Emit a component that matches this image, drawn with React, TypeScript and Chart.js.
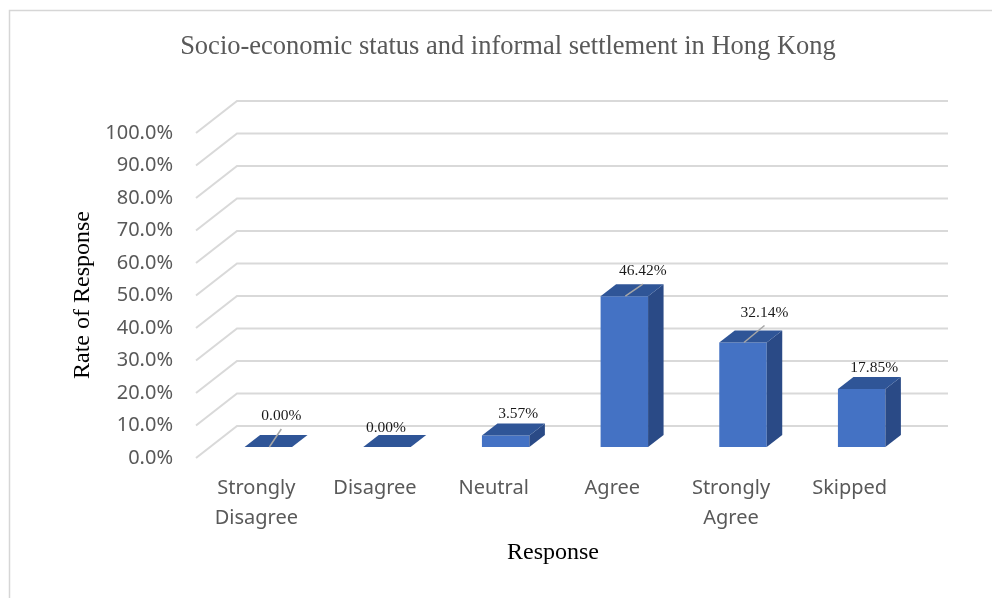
import React, { useEffect, useRef } from 'react';
import { Chart, registerables } from 'chart.js';

Chart.register(...registerables);

// ---- data ----
const categories: (string | string[])[] = [
  ['Strongly', 'Disagree'],
  'Disagree',
  'Neutral',
  'Agree',
  ['Strongly', 'Agree'],
  'Skipped',
];
const rates: number[] = [0.0, 0.0, 3.57, 46.42, 32.14, 17.85];
const valueLabels: string[] = ['0.00%', '0.00%', '3.57%', '46.42%', '32.14%', '17.85%'];
const yMin = 0;
const yMax = 100;
const yStep = 10;
const chartTitle = 'Socio-economic status and informal settlement in Hong Kong';
const xTitle = 'Response';
const yTitle = 'Rate of Response';

// ---- layout / style (not data) ----
const W = 992;
const H = 598;
const AREA = { left: 209, right: 921, top: 122, bottom: 447 };
const FRONT = { dx: -13, dy: 11 };
const BACK = { dx: 28, dy: -21 };
const BAR_DEPTH = { dx: 15.5, dy: -12 };
const LABEL_BASE = { dx: 12.5, dy: -21.5 };
const LABEL_NUDGE: [number, number][] = [[0.5, -9.5], [-13.5, 2.5], [0, 0], [6, -3.5], [9, -8.5], [0, 0]];
const LEADER: boolean[] = [true, false, false, true, true, false];
const SANS = '"Noto Sans", "Open Sans", sans-serif';
const SERIF = '"Liberation Serif", "Times New Roman", serif';

const depthPlugin = {
  id: 'depth3d',
  beforeDraw(chart: any) {
    const { ctx } = chart;
    ctx.save();
    ctx.fillStyle = '#ffffff';
    ctx.fillRect(0, 0, W, H);
    ctx.strokeStyle = '#d6d6d6';
    ctx.lineWidth = 1.5;
    ctx.strokeRect(9.5, 10.5, 2000, 2000);
    ctx.restore();
  },
  beforeDatasetsDraw(chart: any) {
    const { ctx, chartArea } = chart;
    const y = chart.scales.y;
    ctx.save();
    ctx.strokeStyle = '#d9d9d9';
    ctx.lineWidth = 2;
    for (const t of y.ticks) {
      const py = y.getPixelForValue(t.value);
      ctx.beginPath();
      ctx.moveTo(chartArea.left + FRONT.dx, py + FRONT.dy);
      ctx.lineTo(chartArea.left + BACK.dx, py + BACK.dy);
      ctx.lineTo(chartArea.right + BACK.dx - 1, py + BACK.dy);
      ctx.stroke();
    }
    ctx.restore();
  },
  afterDatasetsDraw(chart: any) {
    const { ctx } = chart;
    const meta = chart.getDatasetMeta(0);
    ctx.save();
    meta.data.forEach((bar: any) => {
      const { x, y, base, width } = bar.getProps(['x', 'y', 'base', 'width'], true);
      const x0 = x - width / 2;
      const x1 = x + width / 2;
      // side face
      ctx.fillStyle = '#2A4A86';
      ctx.beginPath();
      ctx.moveTo(x1, y);
      ctx.lineTo(x1 + BAR_DEPTH.dx, y + BAR_DEPTH.dy);
      ctx.lineTo(x1 + BAR_DEPTH.dx, base + BAR_DEPTH.dy);
      ctx.lineTo(x1, base);
      ctx.closePath();
      ctx.fill();
      // top face
      ctx.fillStyle = '#2F5597';
      ctx.beginPath();
      ctx.moveTo(x0, y);
      ctx.lineTo(x1, y);
      ctx.lineTo(x1 + BAR_DEPTH.dx, y + BAR_DEPTH.dy);
      ctx.lineTo(x0 + BAR_DEPTH.dx, y + BAR_DEPTH.dy);
      ctx.closePath();
      ctx.fill();
    });
    // data labels
    meta.data.forEach((bar: any, i: number) => {
      const { x, y } = bar.getProps(['x', 'y'], true);
      const lx = x + LABEL_BASE.dx + LABEL_NUDGE[i][0];
      const ly = y + LABEL_BASE.dy + LABEL_NUDGE[i][1];
      if (LEADER[i]) {
        ctx.strokeStyle = '#a6a6a6';
        ctx.lineWidth = 1.5;
        ctx.beginPath();
        ctx.moveTo(x + 1, y);
        ctx.lineTo(lx, ly + 13);
        ctx.stroke();
      }
      ctx.fillStyle = '#1a1a1a';
      ctx.font = `15.5px ${SERIF}`;
      ctx.textAlign = 'center';
      ctx.textBaseline = 'middle';
      ctx.fillText(valueLabels[i], lx, ly);
    });
    ctx.restore();
  },
  afterDraw(chart: any) {
    const { ctx } = chart;
    ctx.save();
    ctx.textAlign = 'center';
    ctx.textBaseline = 'middle';
    ctx.fillStyle = '#595959';
    ctx.font = `26.5px ${SERIF}`;
    ctx.fillText(chartTitle, 508, 47);
    ctx.fillStyle = '#000000';
    ctx.font = `24px ${SERIF}`;
    ctx.fillText(xTitle, 553, 553);
    ctx.translate(83, 295);
    ctx.rotate(-Math.PI / 2);
    ctx.fillText(yTitle, 0, 0);
    ctx.restore();
  },
};

export default function App() {
  const ref = useRef<HTMLCanvasElement | null>(null);
  useEffect(() => {
    if (!ref.current) return;
    const chart = new Chart(ref.current, {
      type: 'bar',
      data: {
        labels: categories as any,
        datasets: [
          {
            data: rates,
            backgroundColor: '#4472C4',
            borderWidth: 0,
            barPercentage: 0.4,
            categoryPercentage: 1,
          },
        ],
      },
      options: {
        responsive: false,
        maintainAspectRatio: false,
        devicePixelRatio: 1,
        animation: false,
        layout: {
          padding: { top: AREA.top, left: 0, right: W - AREA.right, bottom: 0 },
        },
        plugins: {
          legend: { display: false },
          tooltip: { enabled: false },
          title: { display: false },
        },
        scales: {
          x: {
            grid: { display: false, drawTicks: false },
            border: { display: false },
            ticks: {
              color: '#595959',
              font: { family: SANS, size: 20, lineHeight: 1.5 },
              padding: 26,
              labelOffset: -12,
              maxRotation: 0,
              autoSkip: false,
            },
            afterFit: (s: any) => {
              s.height = H - AREA.bottom;
            },
          },
          y: {
            min: yMin,
            max: yMax,
            grid: { display: false, drawTicks: false },
            border: { display: false },
            ticks: {
              stepSize: yStep,
              color: '#595959',
              font: { family: SANS, size: 20 },
              padding: 36,
              labelOffset: 11,
              callback: (v: any) => Number(v).toFixed(1) + '%',
            },
            afterFit: (s: any) => {
              s.width = AREA.left;
            },
          },
        },
      },
      plugins: [depthPlugin],
    });
    return () => chart.destroy();
  }, []);
  return (
    <div style={{ position: 'absolute', left: 0, top: 0, width: W, height: H }}>
      <canvas ref={ref} width={W} height={H} style={{ display: 'block' }} />
    </div>
  );
}
